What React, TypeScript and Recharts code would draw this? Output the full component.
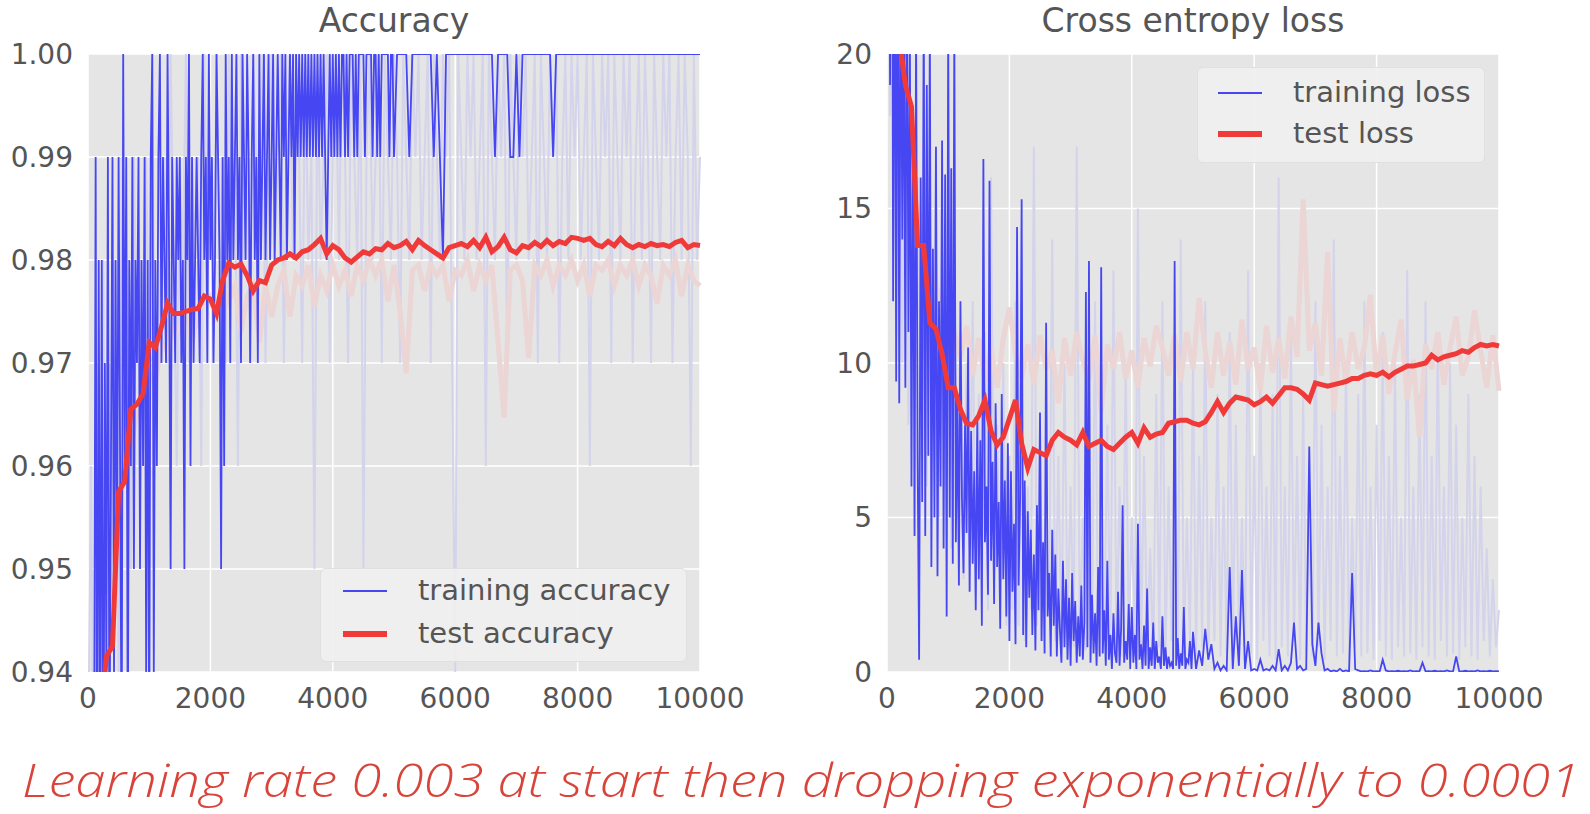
import React from "react";
import { LineChart, Line, XAxis, YAxis, CartesianGrid, Legend } from "recharts";

// training accuracy, every 25 iterations from 0 to 4975
const trainAccuracyEarly = [
  0.9, 0.93, 0.94, 0.91, 0.93, 0.99, 0.92, 0.98, 0.93, 0.98,
  0.92, 0.97, 0.94, 0.99, 0.93, 0.96, 0.99, 0.94, 0.98, 0.95,
  0.99, 0.96, 0.93, 1.0, 0.96, 0.99, 0.93, 0.98, 0.96, 0.99,
  0.95, 0.98, 0.97, 0.99, 0.95, 0.98, 0.96, 0.99, 0.94, 0.98,
  0.93, 0.99, 1.0, 0.94, 0.98, 0.96, 0.99, 1.0,
  0.97, 0.99, 0.98, 0.97, 1.0, 0.98, 0.95, 0.99, 0.98, 0.97, 0.99, 0.98,
  0.99, 0.97, 0.98, 0.95, 0.99, 0.98, 1.0, 0.96, 0.99, 0.97, 0.98, 0.99,
  0.98, 0.97, 0.99, 1.0, 0.98, 0.99, 0.97, 1.0, 0.98, 0.99, 0.97, 0.98,
  1.0, 0.99, 0.98, 0.95, 0.99, 0.96, 1.0, 0.98, 0.99, 0.97, 1.0, 0.98,
  0.99, 1.0, 0.98, 0.99, 0.97, 1.0, 0.99, 0.98, 1.0, 0.99, 0.97, 0.99,
  1.0, 0.98, 0.99, 0.97, 1.0, 0.98, 0.99, 1.0, 0.98, 0.99, 1.0, 0.98,
  0.99, 1.0, 0.98, 0.99, 1.0, 0.99, 0.98, 1.0, 0.99, 1.0,
  0.98, 0.99, 1.0, 0.99, 1.0, 0.98, 1.0, 0.99, 1.0, 0.99,
  1.0, 0.99, 1.0, 0.99, 1.0, 0.99, 1.0, 0.99, 1.0, 0.99,
  1.0, 0.99, 1.0, 0.99, 1.0, 0.99, 0.98, 0.99, 1.0, 0.99,
  1.0, 0.99, 1.0, 0.99, 1.0, 0.99, 1.0, 1.0, 0.99, 1.0,
  0.99, 1.0, 1.0, 1.0, 0.99, 1.0, 0.99, 1.0, 1.0, 1.0,
  1.0, 0.99, 1.0, 1.0, 1.0, 1.0, 0.99, 1.0, 1.0, 0.99,
  1.0, 0.99, 1.0, 1.0, 1.0, 1.0, 1.0, 0.99, 1.0, 1.0,
];

// training accuracy, every 50 iterations from 5000 to 10000
const trainAccuracyLate = [
  0.99, 1.0, 1.0, 1.0, 1.0, 0.99, 1.0, 1.0, 1.0, 1.0,
  1.0, 1.0, 1.0, 0.99, 1.0, 0.99, 0.98, 1.0, 1.0, 1.0,
  1.0, 1.0, 1.0, 1.0, 1.0, 1.0, 1.0, 1.0, 1.0, 1.0,
  1.0, 1.0, 1.0, 0.99, 1.0, 1.0, 1.0, 1.0, 0.99, 0.99,
  1.0, 0.99, 1.0, 1.0, 1.0, 1.0, 1.0, 1.0, 1.0, 1.0,
  1.0, 1.0, 0.99, 1.0, 1.0, 1.0, 1.0, 1.0, 1.0, 1.0,
  1.0, 1.0, 1.0, 1.0, 1.0, 1.0, 1.0, 1.0, 1.0, 1.0,
  1.0, 1.0, 1.0, 1.0, 1.0, 1.0, 1.0, 1.0, 1.0, 1.0,
  1.0, 1.0, 1.0, 1.0, 1.0, 1.0, 1.0, 1.0, 1.0, 1.0,
  1.0, 1.0, 1.0, 1.0, 1.0, 1.0, 1.0, 1.0, 1.0, 1.0,
  1.0,
];

// faded training accuracy of the previous run, every 50 iterations
const ghostTrainAccuracy = [
  0.93, 0.96, 0.92, 0.97, 0.94, 0.98, 0.93, 0.97, 0.95, 0.98,
  0.94, 0.99, 0.96, 0.98, 0.95, 0.99, 0.97, 0.98, 0.96, 0.99,
  0.97, 1.0, 0.96, 0.98, 0.97, 0.99, 0.97, 1.0, 0.98, 0.96,
  0.99, 0.98, 1.0, 0.97, 0.99, 0.98, 0.99, 0.96, 1.0, 0.98,
  0.99, 0.97, 1.0, 0.98, 0.99, 0.97, 1.0, 0.98, 0.99, 0.96,
  1.0, 0.98, 0.99, 0.97, 1.0, 0.99, 0.98, 1.0, 0.97, 0.99,
  1.0, 0.98, 0.99, 1.0, 0.97, 0.99, 1.0, 0.98, 1.0, 0.99,
  0.97, 1.0, 0.98, 0.99, 0.95, 1.0, 0.98, 0.99, 1.0, 0.97,
  0.99, 1.0, 0.98, 1.0, 0.99, 0.97, 1.0, 0.99, 0.98, 1.0,
  0.95, 0.99, 1.0, 0.98, 0.99, 1.0, 0.97, 1.0, 0.99, 0.98,
  1.0, 0.99, 0.97, 1.0, 0.99, 0.98, 1.0, 0.99, 1.0, 0.98,
  0.99, 1.0, 0.97, 1.0, 0.99, 0.98, 1.0, 0.99, 1.0, 0.97,
  0.94, 1.0, 0.99, 0.98, 1.0, 0.99, 1.0, 0.98, 0.99, 1.0,
  0.96, 1.0, 0.99, 0.98, 1.0, 0.99, 1.0, 0.97, 1.0, 0.99,
  0.98, 1.0, 0.99, 1.0, 0.98, 0.99, 1.0, 0.97, 1.0, 0.99,
  0.98, 1.0, 0.99, 1.0, 0.97, 0.99, 1.0, 0.98, 1.0, 0.99,
  1.0, 0.98, 0.99, 1.0, 0.96, 1.0, 0.99, 0.98, 1.0, 0.99,
  1.0, 0.97, 1.0, 0.99, 0.98, 1.0, 0.99, 1.0, 0.97, 0.99,
  1.0, 0.98, 1.0, 0.99, 0.97, 1.0, 0.99, 0.98, 1.0, 0.99,
  1.0, 0.97, 0.99, 1.0, 0.98, 1.0, 0.99, 0.96, 1.0, 0.98,
  0.99,
];

// test accuracy, every 100 iterations
const testAccuracy = [
  0.9, 0.925, 0.935, 0.9415, 0.9425, 0.9575, 0.9585, 0.9655, 0.966, 0.967,
  0.972, 0.9715, 0.9735, 0.9758, 0.9748, 0.9748, 0.975, 0.9752, 0.9753, 0.9765,
  0.9762, 0.9748, 0.978, 0.9797, 0.9793, 0.9796, 0.9785, 0.977, 0.978, 0.9778,
  0.9795, 0.98, 0.9802, 0.9806, 0.9802, 0.9808, 0.981, 0.9815, 0.9821, 0.9806,
  0.9814, 0.981, 0.9802, 0.9798, 0.9803, 0.9808, 0.9806, 0.9811, 0.981, 0.9816,
  0.9812, 0.9814, 0.9818, 0.981, 0.9819, 0.9814, 0.981, 0.9806, 0.9802, 0.9812,
  0.9814, 0.9816, 0.9813, 0.9819, 0.9812, 0.9822, 0.9808, 0.9813, 0.9822, 0.981,
  0.9807, 0.9814, 0.9812, 0.9817, 0.9813, 0.9819, 0.9814, 0.9818, 0.9816, 0.9822,
  0.9821, 0.9819, 0.9821, 0.9815, 0.9813, 0.9818, 0.9814, 0.9821, 0.9815, 0.9812,
  0.9815, 0.9813, 0.9816, 0.9814, 0.9815, 0.9813, 0.9817, 0.9819, 0.9812, 0.9815,
  0.9814,
];

// faded test accuracy of the previous run
const ghostTestAccuracy = [
  0.9, 0.92, 0.935, 0.945, 0.95, 0.955, 0.96, 0.962, 0.965, 0.967,
  0.969, 0.968, 0.972, 0.971, 0.974, 0.973, 0.9755, 0.972, 0.975, 0.976,
  0.9765, 0.974, 0.9775, 0.976, 0.9775, 0.973, 0.9765, 0.9775, 0.972, 0.9775,
  0.9745, 0.9775, 0.979, 0.9745, 0.9785, 0.9775, 0.9795, 0.9755, 0.9785, 0.977,
  0.9795, 0.9775, 0.979, 0.9765, 0.9795, 0.978, 0.98, 0.9785, 0.98, 0.976,
  0.9795, 0.975, 0.969, 0.979, 0.9795, 0.977, 0.9795, 0.9785, 0.9795, 0.976,
  0.979, 0.9785, 0.98, 0.977, 0.9795, 0.978, 0.9795, 0.972, 0.9647, 0.979,
  0.9795, 0.978, 0.9705, 0.9795, 0.9785, 0.98, 0.9775, 0.9795, 0.9785, 0.98,
  0.978, 0.9795, 0.9765, 0.9795, 0.979, 0.98, 0.9775, 0.9795, 0.9785, 0.98,
  0.9775, 0.9795, 0.9785, 0.9758, 0.9795, 0.9785, 0.98, 0.9765, 0.9795, 0.978,
  0.9775,
];

// training loss, every 25 iterations from 0 to 4975
const trainLossEarly = [
  40, 30, 19, 35, 12, 26, 9.4, 28, 8.7, 24,
  14, 22, 9.2, 25, 11, 20, 6, 18, 4.4, 21,
  7, 0.4, 16, 5.5, 22, 4.4, 19, 7, 21, 3.4,
  13.7, 5, 17, 3.1, 12, 6, 17.2, 4, 16.1, 1.8,
  21, 5, 16.3, 3.5, 21, 4.2, 9, 2.8, 12, 5.6,
  3.2, 8, 4.5, 10.5, 2.6, 7.8, 3.5, 6.5, 2.0, 8.2,
  3.0, 7.5, 1.5, 16.6, 4.2, 6.0, 2.5, 15.9, 3.6, 6.8,
  2.2, 8.7, 3.4, 5.5, 1.4, 9.0, 3.0, 6.2, 1.8, 7.4,
  1.0, 6.5, 2.6, 4.8, 0.9, 14.4, 2.8, 5.6, 15.3, 1.2,
  6.2, 0.8, 5.2, 2.4, 4.6, 1.2, 3.8, 0.7, 5.4, 2.0,
  8.4, 1.0, 4.2, 0.6, 11.3, 1.8, 3.2, 0.5, 4.6, 1.5,
  3.8, 0.5, 2.7, 1.4, 0.3, 3.6, 0.8, 3.0, 0.4, 2.4,
  0.2, 3.2, 1.0, 2.3, 0.3, 1.8, 0.5, 2.8, 0.4, 1.6,
  12.3, 0.8, 13.3, 0.3, 2.5, 0.6, 1.9, 0.2, 3.4, 0.5,
  13.1, 0.6, 2.0, 0.2, 3.6, 0.4, 1.2, 0.1, 1.9, 0.6,
  0.3, 2.6, 0.2, 1.4, 5.4, 0.3, 1.0, 0.4, 2.2, 0.1,
  2.1, 0.3, 1.2, 0.1, 4.8, 0.4, 0.9, 0.1, 1.5, 0.2,
  2.7, 0.1, 0.8, 0.2, 1.6, 0.1, 1.0, 0.3, 0.5, 0.1,
  1.8, 0.2, 0.8, 0.1, 0.5, 0.2, 0.3, 0.1, 13.3, 0.2,
  1.1, 0.1, 0.6, 0.2, 2.1, 0.1, 0.4, 0.3, 1.0, 0.1,
];

// training loss, every 50 iterations from 5000 to 10000
const trainLossLate = [
  1.3, 0.1, 0.7, 0.2, 1.4, 0.4, 0.9, 0.1, 0.3, 0.05,
  0.2, 0.05, 3.4, 0.1, 1.8, 0.2, 3.3, 0.1, 1.0, 0.05,
  0.1, 0.05, 0.4, 0.05, 0.1, 0.05, 0.2, 0.05, 0.74, 0.05,
  0.2, 0.05, 0.3, 1.6, 0.1, 0.2, 0.05, 0.1, 7.3, 0.9,
  0.2, 1.6, 0.6, 0.05, 0.1, 0.02, 0.05, 0.02, 0.1, 0.02,
  0.05, 0.02, 3.2, 0.1, 0.05, 0.02, 0.03, 0.02, 0.05, 0.02,
  0.03, 0.02, 0.4, 0.05, 0.02, 0.03, 0.02, 0.04, 0.02, 0.03,
  0.02, 0.05, 0.02, 0.03, 0.02, 0.3, 0.02, 0.03, 0.02, 0.04,
  0.02, 0.03, 0.02, 0.05, 0.02, 0.03, 0.5, 0.03, 0.02, 0.04,
  0.02, 0.03, 0.02, 0.05, 0.02, 0.03, 0.02, 0.04, 0.02, 0.03,
  0.02,
];

// faded training loss of the previous run, every 50 iterations
const ghostTrainLoss = [
  30, 18, 25, 12, 22, 10, 20, 8, 18, 9,
  16, 7, 19, 6, 15, 8, 17, 5, 14, 6,
  12, 4, 13, 5, 11, 3, 10, 4, 12, 2.5,
  9, 3, 11, 2, 16, 3, 8, 2, 10, 1.5,
  7, 2, 12, 1.5, 9, 1, 6, 2, 17, 1.5,
  8, 1, 5, 2, 14, 1, 7, 0.8, 10, 1.5,
  6, 0.8, 17, 1, 5, 0.7, 9, 1.2, 12, 0.6,
  4, 1, 8, 0.5, 13, 0.8, 6, 0.5, 10, 1,
  5, 0.6, 15, 0.5, 7, 1, 4, 0.4, 9, 0.8,
  12, 0.5, 6, 1, 8, 0.4, 14, 0.6, 5, 1,
  10, 0.5, 7, 0.8, 12, 0.4, 5, 1, 9, 0.5,
  6, 0.6, 11, 0.4, 8, 1, 5, 0.5, 13, 0.6,
  7, 0.4, 10, 1, 6, 0.5, 9, 0.4, 16, 0.8,
  6, 0.5, 11, 1, 7, 0.4, 9, 0.6, 5, 0.5,
  12, 0.8, 8, 0.4, 6, 1, 14, 0.5, 7, 0.6,
  10, 0.4, 5, 0.8, 9, 0.5, 12, 0.6, 6, 0.4,
  8, 1, 11, 0.5, 7, 0.4, 10, 0.8, 5, 0.5,
  13, 0.6, 6, 0.4, 9, 0.8, 12, 0.5, 7, 0.4,
  11, 1, 6, 0.5, 10, 0.6, 8, 0.4, 5, 0.8,
  9, 0.5, 7, 0.4, 6, 1, 4, 0.5, 3, 0.8,
  2,
];

// test loss, every 100 iterations
const testLoss = [
  24, 22, 20.5, 19, 18.3, 13.8, 13.8, 11.3, 11.1, 10.3,
  9.2, 9.2, 8.5, 8.05, 8.0, 8.3, 8.8, 7.8, 7.35, 7.6,
  8.2, 8.8, 7.4, 6.6, 7.2, 7.1, 7.0, 7.5, 7.75, 7.6,
  7.5, 7.35, 7.75, 7.3, 7.4, 7.5, 7.3, 7.2, 7.4, 7.6,
  7.75, 7.4, 7.9, 7.6, 7.7, 7.75, 8.05, 8.1, 8.15, 8.15,
  8.05, 8.0, 8.1, 8.4, 8.75, 8.4, 8.7, 8.9, 8.85, 8.8,
  8.65, 8.75, 8.9, 8.7, 8.95, 9.2, 9.2, 9.15, 9.0, 8.8,
  9.35, 9.3, 9.25, 9.3, 9.35, 9.4, 9.5, 9.5, 9.6, 9.65,
  9.6, 9.7, 9.55, 9.7, 9.8, 9.9, 9.9, 9.95, 10.0, 10.25,
  10.1, 10.2, 10.25, 10.3, 10.4, 10.35, 10.5, 10.6, 10.55, 10.6,
  10.55,
];

// faded test loss of the previous run
const ghostTestLoss = [
  25, 22, 20, 18, 16, 15, 14, 13, 12.5, 12,
  11.5, 11.0, 10.2, 11.2, 9.6, 10.8, 9.4, 10.5, 9.2, 10.8,
  11.8, 10.3, 9.5, 10.6, 9.3, 10.9, 9.8, 10.4, 8.7, 10.8,
  9.6, 11.0, 10.1, 9.4, 10.9, 8.4, 10.6, 9.8, 11.0, 9.5,
  10.4, 9.2, 10.8, 9.9, 11.2, 10.5, 9.6, 10.9, 9.4, 11.0,
  9.8, 12.1, 10.4, 9.2, 11.0, 9.6, 10.7, 9.3, 11.4, 9.8,
  10.5, 9.1, 11.2, 9.7, 10.8, 9.5, 11.5, 10.2, 15.3, 10.4,
  11.3, 9.6, 13.6, 8.4, 10.8, 9.4, 11.0, 9.8, 10.5, 12.2,
  9.5, 10.9, 9.0, 10.3, 11.4, 8.8, 10.1, 7.6, 10.6, 9.8,
  11.0, 9.3, 10.5, 11.5, 9.6, 10.2, 11.7, 10.4, 9.2, 10.9,
  9.1,
];

const xTicks = [0, 2000, 4000, 6000, 8000, 10000];
const accuracyTicks = [0.94, 0.95, 0.96, 0.97, 0.98, 0.99, 1.0];
const lossTicks = [0, 5, 10, 15, 20];

const FONT = "'DejaVu Sans', sans-serif";
const GREY = "#555555";
const BLUE = "#4646f2";
const RED = "#f03a3a";
const LAVENDER = "#d3d3ec";
const PINK = "#ebd5d5";

const toPoints = (values: number[], step: number, start = 0) =>
  values.map((v, i) => ({ iter: start + i * step, v }));

const trainAccuracyPoints = [
  ...toPoints(trainAccuracyEarly, 25),
  ...toPoints(trainAccuracyLate, 50, 5000),
];
const trainLossPoints = [
  ...toPoints(trainLossEarly, 25),
  ...toPoints(trainLossLate, 50, 5000),
];

function legendContent(box: { textX: number; sampleX: number; rows: number[] }) {
  return (props: any) => {
    const items = (props.payload || [])
      .filter((p: any) => p.type !== "none")
      .sort((a: any, b: any) => (a.color === RED ? 1 : 0) - (b.color === RED ? 1 : 0));
    return (
      <div
        style={{
          position: "relative",
          width: "100%",
          height: "100%",
          background: "rgba(240,240,240,0.9)",
          border: "1px solid #e0e0e0",
          borderRadius: 6,
          boxSizing: "border-box",
          fontFamily: FONT,
          fontSize: 29,
          color: GREY,
        }}
      >
        {items.map((it: any, i: number) => {
          const thick = it.color === RED;
          return (
            <React.Fragment key={it.value}>
              <div
                style={{
                  position: "absolute",
                  left: box.sampleX,
                  top: box.rows[i] - (thick ? 3 : 1),
                  width: 44,
                  height: thick ? 6 : 2,
                  background: it.color,
                }}
              />
              <div
                style={{
                  position: "absolute",
                  left: box.textX,
                  top: box.rows[i] - 19,
                  lineHeight: "36px",
                  whiteSpace: "nowrap",
                }}
              >
                {it.value}
              </div>
            </React.Fragment>
          );
        })}
      </div>
    );
  };
}

const tickStyle = { fill: GREY, fontSize: 28, fontFamily: FONT };

function AccuracyPanel() {
  return (
    <LineChart width={800} height={740} margin={{ top: 54, right: 100, bottom: 38, left: 8 }}>
      <CartesianGrid fill="#e5e5e5" stroke="#ffffff" strokeWidth={1.5} />
      <XAxis
        dataKey="iter"
        type="number"
        domain={[0, 10000]}
        ticks={xTicks}
        axisLine={false}
        tickLine={false}
        tickSize={6}
        tickMargin={10}
        tick={tickStyle}
        interval={0}
      />
      <YAxis
        type="number"
        domain={[0.94, 1.0]}
        ticks={accuracyTicks}
        allowDataOverflow
        width={80}
        axisLine={false}
        tickLine={false}
        tickSize={6}
        tickMargin={9}
        tick={tickStyle}
        interval={0}
        tickFormatter={(v: number) => v.toFixed(2)}
      />
      <Line data={toPoints(ghostTrainAccuracy, 50)} dataKey="v" stroke={LAVENDER} strokeWidth={2} dot={false} legendType="none" isAnimationActive={false} />
      <Line data={toPoints(ghostTestAccuracy, 100)} dataKey="v" stroke={PINK} strokeWidth={5} dot={false} legendType="none" isAnimationActive={false} />
      <Line data={trainAccuracyPoints} dataKey="v" name="training accuracy" stroke={BLUE} strokeWidth={1.8} dot={false} isAnimationActive={false} />
      <Line data={toPoints(testAccuracy, 100)} dataKey="v" name="test accuracy" stroke={RED} strokeWidth={5} dot={false} isAnimationActive={false} />
      <Legend
        layout="horizontal"
        verticalAlign="middle"
        align="center"
        wrapperStyle={{ left: 320, top: 568, width: 367, height: 94 }}
        content={legendContent({ sampleX: 22, textX: 97, rows: [22, 65] })}
      />
    </LineChart>
  );
}

function LossPanel() {
  return (
    <LineChart width={790} height={740} margin={{ top: 54, right: 91, bottom: 38, left: 7 }}>
      <CartesianGrid fill="#e5e5e5" stroke="#ffffff" strokeWidth={1.5} />
      <XAxis
        dataKey="iter"
        type="number"
        domain={[0, 10000]}
        ticks={xTicks}
        axisLine={false}
        tickLine={false}
        tickSize={6}
        tickMargin={10}
        tick={tickStyle}
        interval={0}
      />
      <YAxis
        type="number"
        domain={[0, 20]}
        ticks={lossTicks}
        allowDataOverflow
        width={80}
        axisLine={false}
        tickLine={false}
        tickSize={6}
        tickMargin={9}
        tick={tickStyle}
        interval={0}
      />
      <Line data={toPoints(ghostTrainLoss, 50)} dataKey="v" stroke={LAVENDER} strokeWidth={2} dot={false} legendType="none" isAnimationActive={false} />
      <Line data={toPoints(ghostTestLoss, 100)} dataKey="v" stroke={PINK} strokeWidth={5} dot={false} legendType="none" isAnimationActive={false} />
      <Line data={trainLossPoints} dataKey="v" name="training loss" stroke={BLUE} strokeWidth={1.8} dot={false} isAnimationActive={false} />
      <Line data={toPoints(testLoss, 100)} dataKey="v" name="test loss" stroke={RED} strokeWidth={5} dot={false} isAnimationActive={false} />
      <Legend
        layout="horizontal"
        verticalAlign="middle"
        align="center"
        wrapperStyle={{ left: 397, top: 67, width: 288, height: 96 }}
        content={legendContent({ sampleX: 20, textX: 95, rows: [25, 66] })}
      />
    </LineChart>
  );
}

export default function App() {
  return (
    <div style={{ position: "absolute", left: 0, top: 0, width: 1590, height: 814, background: "#fff", overflow: "hidden" }}>
      <div style={{ position: "absolute", left: 0, top: 0 }}>
        <AccuracyPanel />
      </div>
      <div style={{ position: "absolute", left: 800, top: 0 }}>
        <LossPanel />
      </div>
      <svg width={1590} height={814} style={{ position: "absolute", left: 0, top: 0, pointerEvents: "none" }}>
        <text x={394} y={32} textAnchor="middle" fontFamily={FONT} fontSize={33} fill={GREY}>
          Accuracy
        </text>
        <text x={1193} y={32} textAnchor="middle" fontFamily={FONT} fontSize={33} fill={GREY}>
          Cross entropy loss
        </text>
        <text
          x={22}
          y={797}
          fontFamily="'Open Sans', 'DejaVu Sans', sans-serif"
          fontStyle="italic"
          fontWeight={300}
          fontSize={46}
          fill="#d9443a"
          textLength={1558}
          lengthAdjust="spacingAndGlyphs"
        >
          Learning rate 0.003 at start then dropping exponentially to 0.0001
        </text>
      </svg>
    </div>
  );
}
